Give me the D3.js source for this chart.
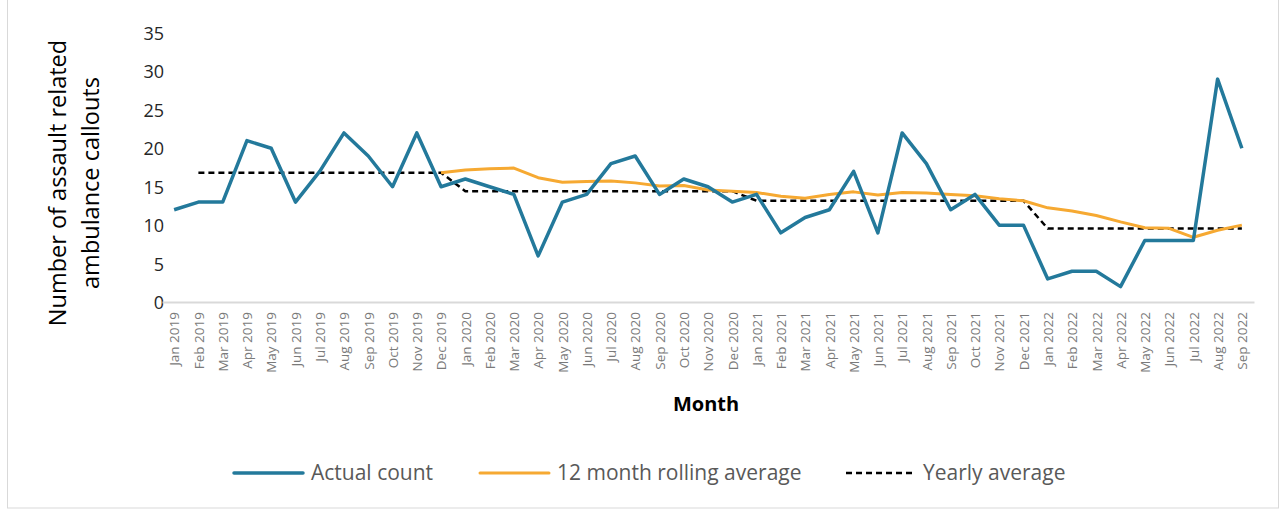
<!DOCTYPE html>
<html>
<head>
<meta charset="utf-8">
<script src="https://cdn.jsdelivr.net/npm/d3@7"></script>
<style>
  html, body { margin: 0; padding: 0; background: #fff; }
  svg { display: block; font-family: "Open Sans", "Noto Sans", sans-serif; }
</style>
</head>
<body>
<svg id="chart" width="1284" height="511"></svg>
<script>
// Monthly categories, Jan 2019 – Sep 2022
const months = [
  "Jan 2019","Feb 2019","Mar 2019","Apr 2019","May 2019","Jun 2019","Jul 2019","Aug 2019","Sep 2019","Oct 2019","Nov 2019","Dec 2019",
  "Jan 2020","Feb 2020","Mar 2020","Apr 2020","May 2020","Jun 2020","Jul 2020","Aug 2020","Sep 2020","Oct 2020","Nov 2020","Dec 2020",
  "Jan 2021","Feb 2021","Mar 2021","Apr 2021","May 2021","Jun 2021","Jul 2021","Aug 2021","Sep 2021","Oct 2021","Nov 2021","Dec 2021",
  "Jan 2022","Feb 2022","Mar 2022","Apr 2022","May 2022","Jun 2022","Jul 2022","Aug 2022","Sep 2022"
];

// Assault related ambulance callouts per month
const actualCount = [
  12, 13, 13, 21, 20, 13, 17, 22, 19, 15, 22, 15,
  16, 15, 14, 6, 13, 14, 18, 19, 14, 16, 15, 13,
  14, 9, 11, 12, 17, 9, 22, 18, 12, 14, 10, 10,
  3, 4, 4, 2, 8, 8, 8, 29, 20
];

// 12 month rolling average (available from Dec 2019)
const rollingAverage = [
  null, null, null, null, null, null, null, null, null, null, null, 16.83,
  17.17, 17.33, 17.42, 16.17, 15.58, 15.67, 15.75, 15.5, 15.08, 15.17, 14.58, 14.42,
  14.25, 13.75, 13.5, 14.0, 14.33, 13.92, 14.25, 14.17, 14.0, 13.83, 13.42, 13.17,
  12.25, 11.83, 11.25, 10.42, 9.67, 9.58, 8.42, 9.33, 10.0
];

// Yearly average
const yearlyAverage = [
  null, 16.83, 16.83, 16.83, 16.83, 16.83, 16.83, 16.83, 16.83, 16.83, 16.83, 16.83,
  14.42, 14.42, 14.42, 14.42, 14.42, 14.42, 14.42, 14.42, 14.42, 14.42, 14.42, 14.42,
  13.17, 13.17, 13.17, 13.17, 13.17, 13.17, 13.17, 13.17, 13.17, 13.17, 13.17, 13.17,
  9.56, 9.56, 9.56, 9.56, 9.56, 9.56, 9.56, 9.56, 9.56
];

const yTicks = [0, 5, 10, 15, 20, 25, 30, 35];

const seriesNames = ["Actual count", "12 month rolling average", "Yearly average"];

const svg = d3.select("#chart");

// chart frame
svg.append("rect")
  .attr("x", 7.5).attr("y", -1).attr("width", 1271).attr("height", 509)
  .attr("fill", "#fff").attr("stroke", "#d9d9d9").attr("stroke-width", 1);

const plot = { left: 162, right: 1254, top: 33, bottom: 302 };

const x = d3.scalePoint()
  .domain(months)
  .range([plot.left, plot.right])
  .padding(0.5);

const y = d3.scaleLinear()
  .domain([0, 35])
  .range([plot.bottom, plot.top]);

// y axis labels (no axis line)
const yAxis = d3.axisLeft(y).tickValues(yTicks).tickSize(0).tickPadding(0);
const gy = svg.append("g")
  .attr("transform", `translate(${plot.left + 2},0)`)
  .call(yAxis);
gy.select(".domain").remove();
gy.selectAll("text")
  .attr("font-family", "Open Sans, sans-serif")
  .attr("font-size", 18)
  .attr("fill", "#262626")
  .attr("dy", "0.36em");

// x axis
const xAxis = d3.axisBottom(x).tickSize(0).tickPadding(0);
const gx = svg.append("g")
  .attr("transform", `translate(0,${plot.bottom})`)
  .call(xAxis);
gx.select(".domain")
  .attr("stroke", "#d9d9d9")
  .attr("stroke-width", 2);
gx.selectAll("text")
  .attr("font-family", "Open Sans, sans-serif")
  .attr("font-size", 13.5)
  .attr("fill", "#7a7a7a")
  .attr("text-anchor", "end")
  .attr("transform", "rotate(-90)")
  .attr("x", -10)
  .attr("y", 0)
  .attr("dy", "0.35em");

// axis titles
svg.append("text")
  .attr("transform", `translate(66,183) rotate(-90)`)
  .attr("text-anchor", "middle")
  .attr("font-size", 23.5)
  .attr("fill", "#000")
  .text("Number of assault related");
svg.append("text")
  .attr("transform", `translate(99,183) rotate(-90)`)
  .attr("text-anchor", "middle")
  .attr("font-size", 23.5)
  .attr("fill", "#000")
  .text("ambulance callouts");

svg.append("text")
  .attr("x", 706).attr("y", 411)
  .attr("text-anchor", "middle")
  .attr("font-size", 20)
  .attr("font-weight", "bold")
  .attr("fill", "#000")
  .text("Month");

const line = d3.line()
  .defined(d => d != null)
  .x((d, i) => x(months[i]))
  .y(d => y(d));

const colors = ["#23799b", "#f6a932", "#000"];

svg.append("path")
  .datum(yearlyAverage)
  .attr("d", line)
  .attr("fill", "none")
  .attr("stroke", colors[2])
  .attr("stroke-width", 2.5)
  .attr("stroke-dasharray", "6,4");

svg.append("path")
  .datum(rollingAverage)
  .attr("d", line)
  .attr("fill", "none")
  .attr("stroke", colors[1])
  .attr("stroke-width", 3)
  .attr("stroke-linejoin", "round");

svg.append("path")
  .datum(actualCount)
  .attr("d", line)
  .attr("fill", "none")
  .attr("stroke", colors[0])
  .attr("stroke-width", 3.5)
  .attr("stroke-linejoin", "round");

// legend
const legendItems = [
  { name: seriesNames[0], x: 234, color: colors[0], width: 3.5, dash: null },
  { name: seriesNames[1], x: 480, color: colors[1], width: 3, dash: null },
  { name: seriesNames[2], x: 846, color: colors[2], width: 2.5, dash: "6,4" }
];
const lg = svg.append("g").attr("transform", "translate(0,473)");
legendItems.forEach(it => {
  lg.append("line")
    .attr("x1", it.x).attr("x2", it.x + 69)
    .attr("y1", 0).attr("y2", 0)
    .attr("stroke", it.color)
    .attr("stroke-width", it.width)
    .attr("stroke-linecap", it.dash ? "butt" : "round")
    .attr("stroke-dasharray", it.dash);
  lg.append("text")
    .attr("x", it.x + 77).attr("y", 0)
    .attr("dy", "0.35em")
    .attr("font-size", 21)
    .attr("fill", "#595959")
    .text(it.name);
});
</script>
</body>
</html>
